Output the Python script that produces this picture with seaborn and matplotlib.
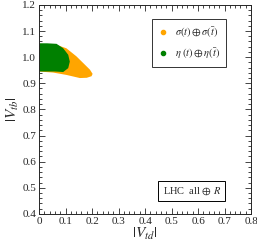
import matplotlib
matplotlib.use("Agg")
import matplotlib.pyplot as plt
import seaborn as sns
from matplotlib.lines import Line2D
from matplotlib.ticker import MultipleLocator, FuncFormatter

# boundaries of the allowed regions
sigma_vtd = [0.0, 0.030, 0.066, 0.103, 0.141, 0.173, 0.192, 0.202, 0.198, 0.180, 0.154, 0.103, 0.053, 0.0]
sigma_vtb = [1.051, 1.050, 1.047, 1.034, 1.003, 0.971, 0.952, 0.936, 0.927, 0.921, 0.920, 0.932, 0.941, 0.945]
eta_vtd = [0.0, 0.030, 0.066, 0.091, 0.110, 0.116, 0.110, 0.091, 0.060, 0.0]
eta_vtb = [1.053, 1.053, 1.051, 1.034, 1.009, 0.983, 0.958, 0.943, 0.945, 0.945]
labels = [r"$\sigma(t)\oplus\sigma(\bar{t})$", r"$\eta\ (t)\oplus\eta(\bar{t})$"]
colors = ["#FFA500", "#008000"]

sns.set_style("ticks")
plt.rcParams["font.family"] = ["Liberation Serif", "DejaVu Serif"]
plt.rcParams["mathtext.fontset"] = "stix"

fig = plt.figure(figsize=(2.57, 2.45), dpi=100)
ax = fig.add_axes([0.152, 0.127, 0.825, 0.853])

ax.fill(sigma_vtd, sigma_vtb, color=colors[0], lw=0)
ax.fill(eta_vtd, eta_vtb, color=colors[1], lw=0)

ax.set_xlim(0, 0.8)
ax.set_ylim(0.4, 1.2)
ax.xaxis.set_major_locator(MultipleLocator(0.1))
ax.xaxis.set_minor_locator(MultipleLocator(0.02))
ax.yaxis.set_major_locator(MultipleLocator(0.1))
ax.yaxis.set_minor_locator(MultipleLocator(0.02))
ax.xaxis.set_major_formatter(FuncFormatter(lambda v, p: "0" if abs(v) < 1e-9 else f"{v:.1f}"))
ax.yaxis.set_major_formatter(FuncFormatter(lambda v, p: f"{v:.1f}"))
ax.tick_params(which="both", direction="in", top=True, right=True, labelsize=8, pad=2, width=0.6)
ax.tick_params(which="major", length=4)
ax.tick_params(which="minor", length=2)
for s in ax.spines.values():
    s.set_linewidth(0.7)

ax.set_xlabel(r"$|V_{td}|$", fontsize=11, labelpad=0)
ax.set_ylabel(r"$|V_{tb}|$", fontsize=11, labelpad=1)

handles = [Line2D([], [], marker="o", ls="", color=c, markersize=3) for c in colors]
leg = ax.legend(handles, labels, loc="upper right", bbox_to_anchor=(0.883, 0.933),
                borderaxespad=0, fontsize=7.5, frameon=True, fancybox=False, edgecolor="black",
                handletextpad=0.6, borderpad=0.6, labelspacing=0.55, handlelength=1.0)
leg.get_frame().set_linewidth(0.7)

ax.text(0.72, 0.108, r"LHC  all $\oplus$ $R$", transform=ax.transAxes, fontsize=7.5,
        ha="center", va="center",
        bbox=dict(boxstyle="square,pad=0.4", fc="white", ec="black", lw=0.7))

fig.savefig("out.png", dpi=100)
